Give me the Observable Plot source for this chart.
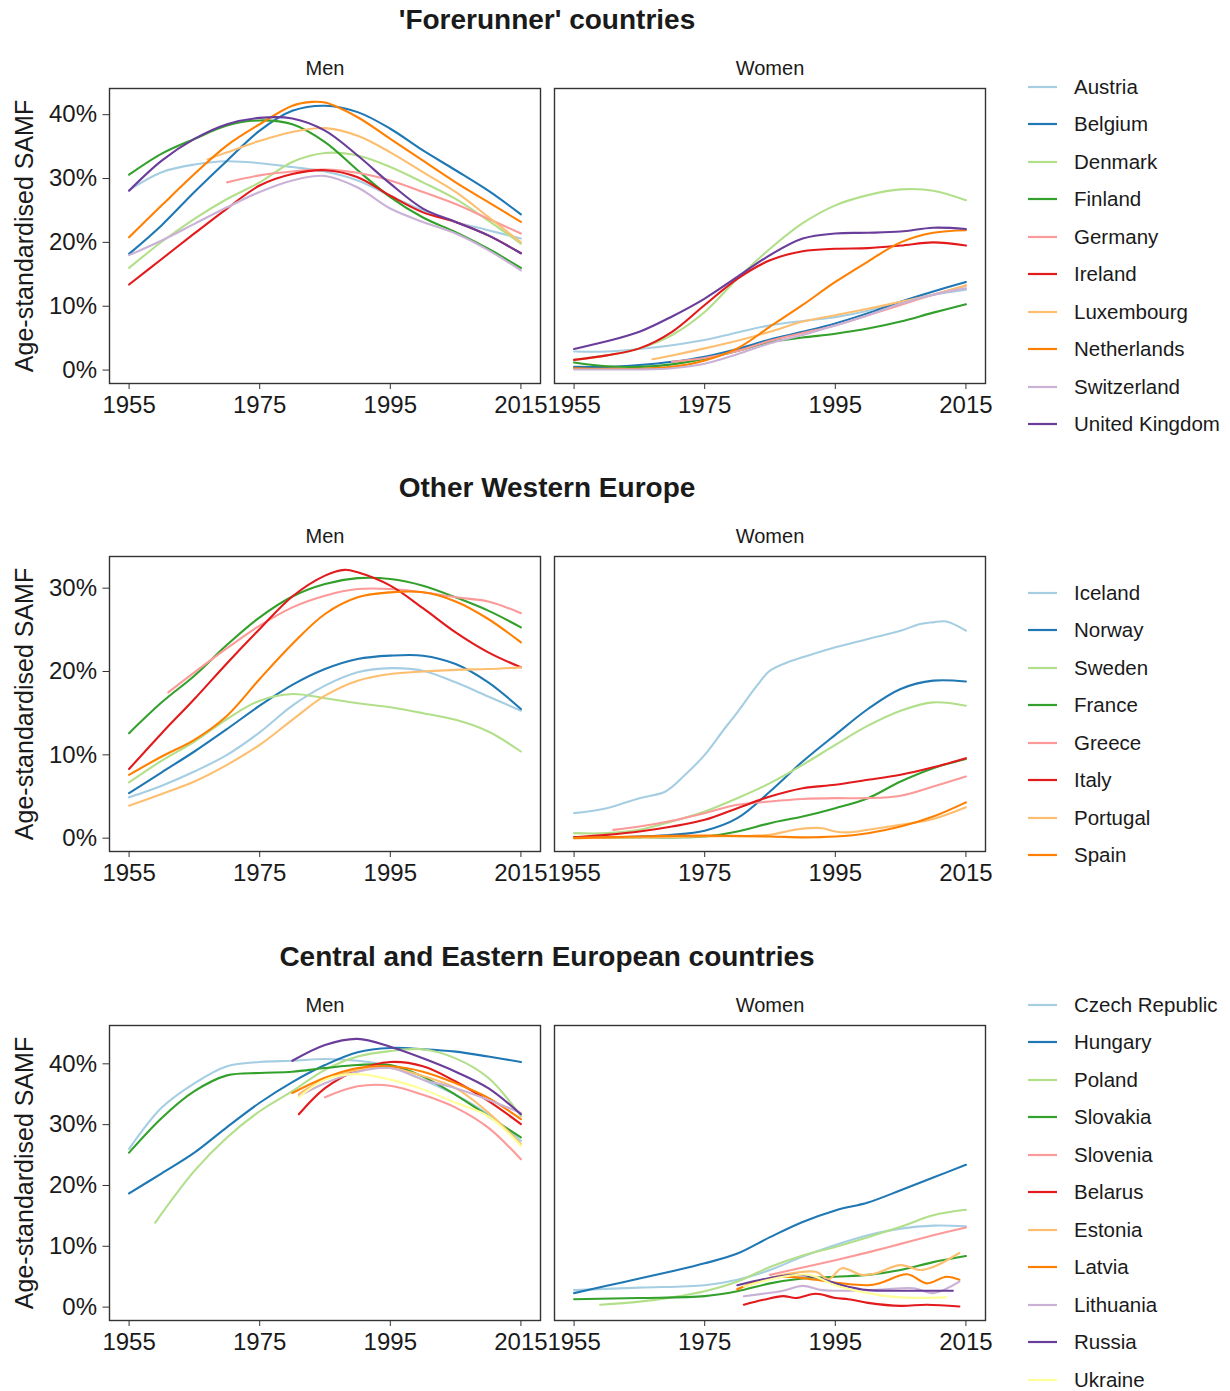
<!DOCTYPE html>
<html>
<head>
<meta charset="utf-8">
<script src="https://cdn.jsdelivr.net/npm/d3@7"></script>
<script src="https://cdn.jsdelivr.net/npm/@observablehq/plot@0.6"></script>
<style>
  html, body { margin: 0; padding: 0; background: #fff; }
  #root { position: relative; width: 1230px; height: 1391px; font-family: "Liberation Sans", Arial, Helvetica, sans-serif; color: #1a1a1a; overflow: hidden; }
  .title { position: absolute; left: 109px; width: 876px; text-align: center; font-weight: bold; font-size: 28px; line-height: 1; }
  .ytitle { position: absolute; font-size: 25px; white-space: nowrap; line-height: 1; transform: translate(-50%, -50%) rotate(-90deg); }
  .plot { position: absolute; left: 0; }
  .legrow { position: absolute; left: 1027px; height: 30px; display: flex; align-items: center; font-size: 20.5px; transform: translateY(-50%); }
  .legrow svg { margin-right: 16px; }
</style>
</head>
<body>
<div id="root"></div>
<script>
// ---------- colours (ColorBrewer Paired) ----------
const paired = ["#a6cee3","#1f78b4","#b2df8a","#33a02c","#fb9a99","#e31a1c","#fdbf6f","#ff7f00","#cab2d6","#6a3d9a","#ffff99"];

// ---------- section titles / labels ----------
const sectionTitles = ["'Forerunner' countries", "Other Western Europe", "Central and Eastern European countries"];
const sexes = ["Men", "Women"];
const yTitle = "Age-standardised SAMF";
const xTicks = [1955, 1975, 1995, 2015];

// ---------- Section 1: 'Forerunner' countries ----------
const forerunnerCountries = ["Austria","Belgium","Denmark","Finland","Germany","Ireland","Luxembourg","Netherlands","Switzerland","United Kingdom"];
const forerunnerTicks = [0, 10, 20, 30, 40];
const forerunnerMen = [
  [[1955,28.2],[1960,31.0],[1965,32.2],[1970,32.7],[1975,32.4],[1980,31.8],[1985,31.1],[1990,29.7],[1995,27.3],[2000,25.0],[2005,23.2],[2010,21.9],[2015,20.6]],
  [[1955,18.2],[1960,22.7],[1965,27.9],[1970,32.8],[1975,37.5],[1980,40.6],[1985,41.4],[1990,40.4],[1995,37.8],[2000,34.4],[2005,31.3],[2010,28.1],[2015,24.4]],
  [[1955,16.0],[1960,20.1],[1965,23.7],[1970,26.8],[1975,29.4],[1980,32.6],[1985,34.0],[1990,33.6],[1995,31.8],[2000,29.4],[2005,26.8],[2010,23.4],[2015,19.8]],
  [[1955,30.6],[1960,33.9],[1965,36.2],[1970,38.3],[1975,39.1],[1980,38.5],[1985,35.7],[1990,31.3],[1995,27.1],[2000,23.9],[2005,21.6],[2010,19.0],[2015,16.0]],
  [[1970,29.4],[1975,30.5],[1980,31.1],[1985,31.4],[1990,30.9],[1995,29.7],[2000,27.9],[2005,26.0],[2010,23.7],[2015,21.4]],
  [[1955,13.4],[1960,17.4],[1965,21.4],[1970,25.3],[1975,28.9],[1980,30.7],[1985,31.3],[1990,30.2],[1995,27.3],[2000,24.7],[2005,23.2],[2010,21.1],[2015,18.3]],
  [[1967,33.0],[1970,34.1],[1975,35.9],[1980,37.3],[1985,37.9],[1990,36.7],[1995,34.1],[2000,31.0],[2005,27.9],[2010,24.0],[2015,20.0]],
  [[1955,20.8],[1960,25.8],[1965,30.7],[1970,35.2],[1975,38.5],[1980,41.4],[1983,42.0],[1985,41.9],[1990,39.6],[1995,36.2],[2000,32.8],[2005,29.4],[2010,26.3],[2015,23.2]],
  [[1955,18.0],[1960,20.3],[1965,22.9],[1970,25.5],[1975,27.9],[1980,29.7],[1985,30.4],[1990,28.6],[1995,25.3],[2000,23.2],[2005,21.4],[2010,18.8],[2015,15.6]],
  [[1955,28.1],[1960,32.8],[1965,36.2],[1970,38.5],[1975,39.5],[1980,39.4],[1985,37.5],[1990,33.6],[1995,29.2],[2000,25.3],[2005,23.2],[2010,21.1],[2015,18.3]]
];
const forerunnerWomen = [
  [[1955,2.9],[1960,2.9],[1965,3.3],[1970,3.9],[1975,4.7],[1980,5.9],[1985,7.0],[1990,7.7],[1995,8.3],[2000,9.3],[2005,10.7],[2010,11.8],[2015,12.6]],
  [[1955,0.5],[1960,0.5],[1965,0.8],[1970,1.3],[1975,2.1],[1980,3.3],[1985,4.8],[1990,6.0],[1995,7.3],[2000,8.9],[2005,10.7],[2010,12.3],[2015,13.8]],
  [[1955,1.6],[1960,2.3],[1965,3.4],[1970,5.5],[1975,9.1],[1980,14.3],[1985,19.0],[1990,23.0],[1995,25.8],[2000,27.4],[2005,28.3],[2010,28.1],[2015,26.6]],
  [[1955,1.2],[1960,0.6],[1965,0.5],[1970,0.9],[1975,1.8],[1980,3.0],[1985,4.4],[1990,5.1],[1995,5.7],[2000,6.5],[2005,7.6],[2010,9.0],[2015,10.3]],
  [[1970,1.3],[1975,1.9],[1980,3.0],[1985,4.6],[1990,5.8],[1995,7.0],[2000,8.6],[2005,10.2],[2010,11.8],[2015,13.2]],
  [[1955,1.6],[1960,2.3],[1965,3.4],[1970,6.0],[1975,10.2],[1980,14.3],[1985,17.2],[1990,18.6],[1995,19.0],[2000,19.1],[2005,19.5],[2010,20.0],[2015,19.5]],
  [[1967,1.7],[1970,2.3],[1975,3.4],[1980,4.6],[1985,6.0],[1990,7.6],[1995,8.6],[2000,9.6],[2005,10.7],[2010,11.8],[2015,13.3]],
  [[1955,0.3],[1960,0.2],[1965,0.2],[1970,0.5],[1975,1.5],[1980,3.4],[1985,6.8],[1990,10.2],[1995,13.8],[2000,17.0],[2005,20.0],[2010,21.5],[2015,21.9]],
  [[1955,0.1],[1960,0.1],[1965,0.1],[1970,0.3],[1975,1.0],[1980,2.5],[1985,4.2],[1990,5.5],[1995,7.0],[2000,8.6],[2005,10.4],[2010,11.8],[2015,12.8]],
  [[1955,3.3],[1960,4.5],[1965,6.0],[1970,8.4],[1975,11.2],[1980,14.6],[1985,18.0],[1990,20.6],[1995,21.4],[2000,21.5],[2005,21.7],[2010,22.3],[2015,22.1]]
];

// ---------- Section 2: Other Western Europe ----------
const westCountries = ["Iceland","Norway","Sweden","France","Greece","Italy","Portugal","Spain"];
const westTicks = [0, 10, 20, 30];
const westMen = [
  [[1955,4.9],[1960,6.3],[1965,8.0],[1970,10.0],[1975,12.7],[1980,15.9],[1985,18.3],[1990,19.9],[1995,20.4],[2000,20.1],[2005,18.7],[2010,17.0],[2015,15.3]],
  [[1955,5.4],[1960,7.9],[1965,10.4],[1970,13.1],[1975,15.9],[1980,18.4],[1985,20.3],[1990,21.5],[1995,21.9],[2000,21.9],[2005,20.9],[2010,18.7],[2015,15.5]],
  [[1955,6.7],[1960,9.3],[1965,11.6],[1970,14.3],[1975,16.5],[1980,17.3],[1985,16.8],[1990,16.2],[1995,15.7],[2000,15.0],[2005,14.2],[2010,12.8],[2015,10.4]],
  [[1955,12.6],[1960,16.3],[1965,19.5],[1970,23.2],[1975,26.5],[1980,29.0],[1985,30.5],[1990,31.2],[1995,31.1],[2000,30.3],[2005,28.9],[2010,27.3],[2015,25.3]],
  [[1961,17.5],[1965,19.9],[1970,22.8],[1975,25.5],[1980,27.7],[1985,29.1],[1990,29.9],[1995,29.9],[2000,29.5],[2005,28.9],[2010,28.4],[2015,27.0]],
  [[1955,8.3],[1960,12.6],[1965,16.7],[1970,21.0],[1975,25.1],[1980,29.0],[1985,31.5],[1988,32.2],[1990,31.9],[1995,30.3],[2000,27.6],[2005,24.7],[2010,22.3],[2015,20.5]],
  [[1955,3.9],[1960,5.3],[1965,6.8],[1970,8.8],[1975,11.2],[1980,14.2],[1985,17.1],[1990,18.9],[1995,19.7],[2000,20.0],[2005,20.2],[2010,20.3],[2015,20.5]],
  [[1955,7.6],[1960,9.8],[1965,11.8],[1970,14.7],[1975,19.1],[1980,23.3],[1985,26.9],[1990,28.9],[1995,29.5],[2000,29.5],[2005,28.4],[2010,26.3],[2015,23.5]]
];
const westWomen = [
  [[1955,3.0],[1960,3.6],[1965,4.8],[1969,5.6],[1972,7.6],[1975,10.0],[1978,13.1],[1980,15.1],[1983,18.3],[1985,20.1],[1988,21.2],[1990,21.7],[1995,22.9],[2000,23.9],[2005,24.9],[2008,25.7],[2010,25.9],[2012,26.0],[2015,24.9]],
  [[1955,0.1],[1960,0.1],[1965,0.2],[1970,0.4],[1975,0.9],[1980,2.4],[1985,5.6],[1990,9.2],[1995,12.4],[2000,15.5],[2005,17.9],[2010,18.9],[2015,18.8]],
  [[1955,0.6],[1960,0.6],[1965,1.0],[1970,2.0],[1975,3.2],[1980,4.8],[1985,6.6],[1990,8.8],[1995,11.2],[2000,13.5],[2005,15.3],[2010,16.3],[2015,15.9]],
  [[1955,0.1],[1965,0.1],[1975,0.2],[1980,0.8],[1985,1.8],[1990,2.6],[1995,3.6],[2000,4.8],[2005,6.8],[2010,8.4],[2015,9.5]],
  [[1961,1.0],[1965,1.4],[1970,2.1],[1975,3.0],[1980,4.0],[1985,4.4],[1990,4.7],[1995,4.8],[2000,4.8],[2005,5.1],[2010,6.2],[2015,7.4]],
  [[1955,0.1],[1960,0.4],[1965,0.8],[1970,1.4],[1975,2.2],[1980,3.6],[1985,5.0],[1990,6.0],[1995,6.4],[2000,7.0],[2005,7.6],[2010,8.5],[2015,9.6]],
  [[1955,0.0],[1965,0.1],[1975,0.2],[1985,0.4],[1988,0.9],[1991,1.2],[1993,1.2],[1995,0.8],[1997,0.7],[2000,1.0],[2005,1.6],[2010,2.3],[2015,3.7]],
  [[1955,0.0],[1965,0.2],[1975,0.3],[1985,0.2],[1990,0.1],[1995,0.2],[2000,0.6],[2005,1.4],[2010,2.6],[2015,4.3]]
];

// ---------- Section 3: Central and Eastern Europe ----------
const ceeCountries = ["Czech Republic","Hungary","Poland","Slovakia","Slovenia","Belarus","Estonia","Latvia","Lithuania","Russia","Ukraine"];
const ceeTicks = [0, 10, 20, 30, 40];
const ceeMen = [
  [[1955,26.0],[1960,32.8],[1965,36.8],[1970,39.6],[1975,40.3],[1980,40.5],[1985,40.8],[1990,40.5],[1995,39.6],[2000,37.4],[2005,34.9],[2010,31.7],[2015,27.3]],
  [[1955,18.7],[1960,22.0],[1965,25.4],[1970,29.6],[1975,33.6],[1980,37.0],[1985,39.8],[1990,41.9],[1995,42.6],[2000,42.4],[2005,42.0],[2010,41.2],[2015,40.3]],
  [[1959,13.9],[1965,22.4],[1970,27.9],[1975,32.2],[1980,35.5],[1985,39.0],[1990,41.2],[1995,42.1],[2000,42.4],[2005,40.9],[2010,37.7],[2015,31.4]],
  [[1955,25.4],[1960,31.1],[1965,35.5],[1970,38.1],[1975,38.5],[1980,38.7],[1985,39.3],[1990,39.8],[1995,39.8],[2000,37.9],[2005,34.9],[2010,31.4],[2015,27.9]],
  [[1985,34.5],[1990,36.3],[1995,36.4],[2000,34.9],[2005,32.8],[2010,29.5],[2015,24.3]],
  [[1981,31.7],[1985,36.0],[1990,39.0],[1995,40.3],[2000,39.6],[2005,37.1],[2010,33.9],[2015,30.1]],
  [[1981,35.0],[1985,37.5],[1990,39.0],[1995,39.3],[2000,38.0],[2005,36.0],[2010,32.0],[2015,26.8]],
  [[1980,35.2],[1985,37.7],[1990,39.3],[1995,39.6],[2000,38.7],[2005,36.8],[2010,34.4],[2015,30.9]],
  [[1981,34.7],[1985,36.8],[1990,38.7],[1995,39.3],[2000,37.4],[2005,36.0],[2010,34.1],[2015,31.9]],
  [[1980,40.5],[1985,43.1],[1990,44.1],[1995,42.8],[2000,40.9],[2005,38.7],[2010,36.0],[2015,31.7]],
  [[1981,34.5],[1985,37.4],[1990,38.3],[1995,37.4],[2000,35.8],[2005,33.6],[2010,31.4],[2015,26.5]]
];
const ceeWomen = [
  [[1955,2.8],[1965,3.2],[1975,3.6],[1980,4.5],[1985,6.1],[1990,8.3],[1995,10.2],[2000,11.8],[2005,12.9],[2010,13.4],[2015,13.3]],
  [[1955,2.3],[1960,3.5],[1965,4.7],[1970,5.9],[1975,7.2],[1980,8.8],[1985,11.5],[1990,14.0],[1995,15.9],[2000,17.2],[2005,19.2],[2010,21.3],[2015,23.4]],
  [[1959,0.4],[1965,0.9],[1970,1.6],[1975,2.6],[1980,4.2],[1985,6.6],[1990,8.5],[1995,9.9],[2000,11.5],[2005,13.2],[2010,15.1],[2015,16.0]],
  [[1955,1.3],[1965,1.5],[1975,1.8],[1980,2.6],[1985,3.9],[1990,4.7],[1995,5.0],[2000,5.3],[2005,6.1],[2010,7.4],[2015,8.4]],
  [[1985,5.3],[1990,6.5],[1995,7.7],[2000,9.0],[2005,10.4],[2010,11.8],[2015,13.1]],
  [[1981,0.4],[1984,1.2],[1987,1.8],[1989,1.5],[1992,2.2],[1995,1.5],[1997,1.3],[2000,0.7],[2005,0.2],[2009,0.4],[2014,0.1]],
  [[1980,3.0],[1983,4.0],[1987,5.3],[1992,5.8],[1994,4.6],[1996,6.4],[1999,5.3],[2001,5.5],[2005,6.9],[2008,6.1],[2010,6.6],[2014,8.9]],
  [[1980,2.9],[1983,4.2],[1987,5.0],[1992,4.5],[1996,3.9],[2000,3.6],[2002,4.0],[2006,5.4],[2009,3.9],[2012,5.0],[2014,4.5]],
  [[1981,1.8],[1987,2.7],[1990,3.5],[1993,2.8],[1997,2.7],[2002,2.9],[2007,3.1],[2010,2.3],[2014,4.2]],
  [[1980,3.6],[1985,4.8],[1989,5.3],[1992,4.9],[1996,3.6],[2000,2.8],[2005,2.7],[2013,2.7]],
  [[1981,3.4],[1987,5.0],[1991,5.3],[1995,3.6],[2000,2.3],[2005,1.6],[2012,1.6]]
];

// ---------- section descriptors (built from the arrays above) ----------
const sections = [
  {title: sectionTitles[0], countries: forerunnerCountries, men: forerunnerMen, women: forerunnerWomen, yDomain: [-2.1, 44.1], ticks: forerunnerTicks, top: 0, legendTop: 87},
  {title: sectionTitles[1], countries: westCountries, men: westMen, women: westWomen, yDomain: [-1.6, 33.8], ticks: westTicks, top: 468, legendTop: 593},
  {title: sectionTitles[2], countries: ceeCountries, men: ceeMen, women: ceeWomen, yDomain: [-2.2, 46.3], ticks: ceeTicks, top: 937, legendTop: 1005}
];

function toRows(sec) {
  const rows = [];
  sec.countries.forEach((c, i) => {
    sec.men[i].forEach(([year, value]) => rows.push({country: c, sex: sexes[0], year, value}));
    sec.women[i].forEach(([year, value]) => rows.push({country: c, sex: sexes[1], year, value}));
  });
  return rows;
}

const root = document.getElementById("root");
const FONT = "'Liberation Sans', Arial, Helvetica, sans-serif";

sections.forEach((sec) => {
  const T = sec.top;
  // title
  const t = document.createElement("div");
  t.className = "title";
  t.style.top = (T + 6) + "px";
  t.textContent = sec.title;
  root.appendChild(t);

  const colors = paired.slice(0, sec.countries.length);
  const chart = Plot.plot({
    width: 1000,
    height: 383,
    marginTop: 48,
    marginBottom: 40,
    marginLeft: 109,
    marginRight: 15,
    style: {fontFamily: FONT, background: "transparent", color: "#1a1a1a", overflow: "visible"},
    x: {domain: [1952, 2018]},
    y: {domain: sec.yDomain},
    fx: {domain: sexes, paddingInner: 0.0315, paddingOuter: 0, label: null},
    color: {domain: sec.countries, range: colors},
    marks: [
      Plot.axisFx({anchor: "top", tickSize: 0, tickPadding: 14, fontSize: 20, label: null}),
      Plot.axisY({ticks: sec.ticks, tickFormat: d => d + "%", tickSize: 6.5, tickPadding: 6, fontSize: 24, label: null, stroke: "#333"}),
      Plot.axisX({ticks: xTicks, tickFormat: d => String(d), tickSize: 6, tickPadding: 6, fontSize: 24, label: null, stroke: "#333"}),
      Plot.line(toRows(sec), {x: "year", y: "value", z: "country", stroke: "country", fx: "sex", curve: "catmull-rom", strokeWidth: 2.1}),
      Plot.frame({stroke: "#333", strokeWidth: 1.4})
    ]
  });
  chart.classList.add("plot");
  chart.style.top = (T + 40) + "px";
  root.appendChild(chart);

  // y-axis title
  const yt = document.createElement("div");
  yt.className = "ytitle";
  yt.style.left = "24px";
  yt.style.top = (T + 40 + 48 + 147.5) + "px";
  yt.textContent = yTitle;
  root.appendChild(yt);

  // legend
  sec.countries.forEach((c, i) => {
    const row = document.createElement("div");
    row.className = "legrow";
    row.style.top = (sec.legendTop + i * 37.45) + "px";
    row.innerHTML = `<svg width="31" height="6"><line x1="1" x2="30" y1="3" y2="3" stroke="${colors[i]}" stroke-width="2.2"/></svg><span>${c}</span>`;
    root.appendChild(row);
  });
});
</script>
</body>
</html>
